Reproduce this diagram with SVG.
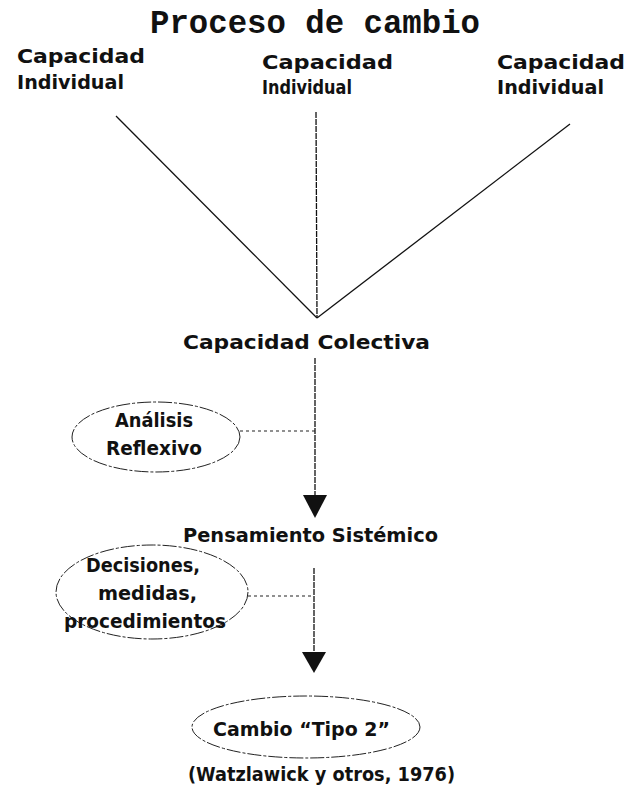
<svg xmlns="http://www.w3.org/2000/svg" width="630" height="793" viewBox="0 0 630 793">
<style>
.t{font-family:"DejaVu Sans","Liberation Sans",sans-serif;font-weight:bold;font-size:20px;fill:#111}
.title{font-family:"Liberation Mono","DejaVu Sans Mono",monospace;font-weight:bold;font-size:34px;fill:#111}
.ell{fill:none;stroke:#222;stroke-width:1;stroke-dasharray:14 2 3 2}
.ln{stroke:#111;stroke-width:1.3;fill:none}
.vl{stroke:#111;stroke-width:1.3;fill:none;stroke-dasharray:6 1}
.dot{stroke:#222;stroke-width:1.2;fill:none;stroke-dasharray:3 3}
.ah{fill:#111}
</style>
<rect width="630" height="793" fill="#fff"/>
<text class="title" x="315" y="33" text-anchor="middle" textLength="330" lengthAdjust="spacingAndGlyphs">Proceso de cambio</text>
<g id="cap1">
<text class="t" x="17" y="63" textLength="128" lengthAdjust="spacingAndGlyphs">Capacidad</text>
<text class="t" x="17" y="89" textLength="107" lengthAdjust="spacingAndGlyphs">Individual</text>
</g>
<g id="cap2">
<text class="t" x="262" y="69" textLength="131" lengthAdjust="spacingAndGlyphs">Capacidad</text>
<text class="t" x="262" y="94" textLength="90" lengthAdjust="spacingAndGlyphs">Individual</text>
</g>
<g id="cap3">
<text class="t" x="497" y="69" textLength="128" lengthAdjust="spacingAndGlyphs">Capacidad</text>
<text class="t" x="497" y="94" textLength="107" lengthAdjust="spacingAndGlyphs">Individual</text>
</g>
<g id="colectiva">
<text class="t" x="183" y="349" textLength="247" lengthAdjust="spacingAndGlyphs">Capacidad Colectiva</text>
</g>
<g id="analisis">
<ellipse class="ell" cx="156" cy="437" rx="84" ry="35"/>
<text class="t" x="115" y="427" textLength="78" lengthAdjust="spacingAndGlyphs">Análisis</text>
<text class="t" x="106" y="455" textLength="96" lengthAdjust="spacingAndGlyphs">Reflexivo</text>
</g>
<g id="sistemico">
<text class="t" x="183" y="542" textLength="255" lengthAdjust="spacingAndGlyphs">Pensamiento Sistémico</text>
</g>
<g id="decisiones">
<ellipse class="ell" cx="152" cy="592" rx="96" ry="47"/>
<text class="t" x="86" y="572" textLength="114" lengthAdjust="spacingAndGlyphs">Decisiones,</text>
<text class="t" x="98" y="600" textLength="99" lengthAdjust="spacingAndGlyphs">medidas,</text>
<text class="t" x="64" y="628" textLength="162" lengthAdjust="spacingAndGlyphs">procedimientos</text>
</g>
<g id="tipo2">
<ellipse class="ell" cx="306" cy="727" rx="114" ry="31"/>
<text class="t" x="213" y="736" textLength="177" lengthAdjust="spacingAndGlyphs">Cambio “Tipo 2”</text>
</g>
<g id="ref">
<text class="t" x="188" y="781" textLength="267" lengthAdjust="spacingAndGlyphs">(Watzlawick y otros, 1976)</text>
</g>
<g id="connectors">
<line class="ln" x1="116" y1="116" x2="317" y2="318"/>
<line class="ln" x1="570" y1="124" x2="317" y2="318"/>
<line class="vl" x1="316" y1="112" x2="317" y2="318"/>
<line class="vl" x1="315" y1="358" x2="315" y2="500"/>
<path class="ah" d="M303,495 L327,495 L315,518 Z"/>
<line class="vl" x1="314" y1="568" x2="314" y2="657"/>
<path class="ah" d="M302,652 L326,652 L314,673 Z"/>
<line class="dot" x1="240" y1="431" x2="315" y2="431"/>
<line class="dot" x1="248" y1="596" x2="314" y2="596"/>
</g>
</svg>
